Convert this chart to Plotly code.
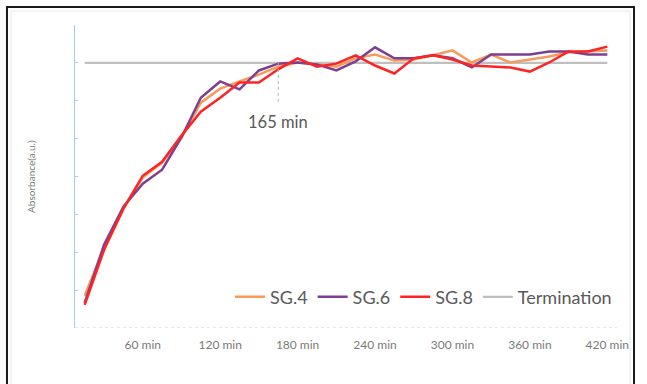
import plotly.graph_objects as go

# Sampling times (min)
times = [15, 30, 45, 60, 75, 90, 105, 120, 135, 150, 165, 180, 195, 210,
         225, 240, 255, 270, 285, 300, 315, 330, 345, 360, 375, 390, 405, 420]

# Absorbance (a.u.) for each formulation
sg4 = [0.85, 2.12, 3.15, 3.97, 4.37, 5.03, 5.95, 6.32, 6.51, 6.69, 6.90, 7.01, 6.96, 6.90,
       7.12, 7.22, 7.06, 7.09, 7.20, 7.33, 7.01, 7.22, 7.01, 7.09, 7.17, 7.28, 7.30, 7.33]
sg6 = [0.66, 2.20, 3.20, 3.81, 4.18, 5.03, 6.08, 6.51, 6.30, 6.80, 6.98, 7.01, 6.96, 6.80,
       7.04, 7.41, 7.12, 7.12, 7.20, 7.12, 6.88, 7.22, 7.22, 7.22, 7.30, 7.30, 7.22, 7.22]
sg8 = [0.61, 2.06, 3.15, 4.02, 4.39, 5.08, 5.71, 6.08, 6.48, 6.48, 6.83, 7.12, 6.90, 6.98,
       7.20, 6.93, 6.72, 7.12, 7.20, 7.09, 6.93, 6.90, 6.88, 6.77, 7.01, 7.30, 7.30, 7.43]

termination_level = 7.0
termination_time = 165

tick_vals = [60, 120, 180, 240, 300, 360, 420]
tick_text = ["60 min", "120 min", "180 min", "240 min", "300 min", "360 min", "420 min"]

FONT = "Lato"
TEXT = "#595959"

fig = go.Figure()

fig.add_trace(go.Scatter(
    x=[times[0], times[-1]], y=[termination_level, termination_level],
    mode="lines", name="Termination", legendrank=4,
    line=dict(color="#bfbfbf", width=2.2)))

series = [("SG.4", sg4, "#f79a5a"), ("SG.6", sg6, "#7e3f91"), ("SG.8", sg8, "#ff2424")]
for rank, (name, vals, color) in enumerate(series, start=1):
    fig.add_trace(go.Scatter(
        x=times, y=vals, mode="lines", name=name, legendrank=rank,
        line=dict(color=color, width=2.5)))

shapes = [
    # dotted category axis
    dict(type="line", xref="paper", yref="y", x0=0, x1=1, y0=0, y1=0,
         line=dict(color="#d0d0d0", width=1, dash="dot"), layer="below"),
    # drop line marking when termination is reached
    dict(type="line", xref="x", yref="y", x0=termination_time, x1=termination_time,
         y0=termination_level, y1=5.9,
         line=dict(color="#b0b0b0", width=1, dash="dot")),
    # outer frame
    dict(type="rect", xref="paper", yref="paper", x0=-0.1255, x1=1.0314, y0=-0.25, y1=1.0594,
         line=dict(color="#1a1a1a", width=2)),
    dict(type="rect", xref="paper", yref="paper", x0=-0.118, x1=1.024, y0=-0.25, y1=1.046,
         line=dict(color="#e8e8e8", width=1)),
]

annotations = [
    dict(x=termination_time, y=5.45, xref="x", yref="y", text="165 min", showarrow=False,
         font=dict(family=FONT, size=16.5, color=TEXT)),
    dict(x=-0.097, y=0.5, xref="paper", yref="paper", text="Absorbance(a.u.)",
         textangle=-90, showarrow=False, font=dict(family=FONT, size=10, color="#7a7a7a")),
]

fig.update_layout(
    width=647, height=384,
    margin=dict(l=75, r=30, t=25, b=56),
    paper_bgcolor="white", plot_bgcolor="white",
    font=dict(family=FONT, color=TEXT),
    showlegend=True,
    legend=dict(orientation="h", x=0.286, xanchor="left", y=0.102, yanchor="middle",
                font=dict(family=FONT, size=18, color=TEXT), bgcolor="rgba(0,0,0,0)"),
    shapes=shapes, annotations=annotations,
    xaxis=dict(range=[7.5, 427.5], tickmode="array", tickvals=tick_vals, ticktext=tick_text,
               showgrid=False, zeroline=False, showline=False, ticks="",
               tickfont=dict(family=FONT, size=12, color="#7a7a7a"), ticklabelstandoff=8),
    yaxis=dict(range=[0, 8], dtick=1, showgrid=False, zeroline=False, showline=True,
               linecolor="#a9cbe6", linewidth=1.2, ticks="inside", ticklen=3,
               tickcolor="#a9cbe6", showticklabels=False),
)

fig.write_html("out.html")
